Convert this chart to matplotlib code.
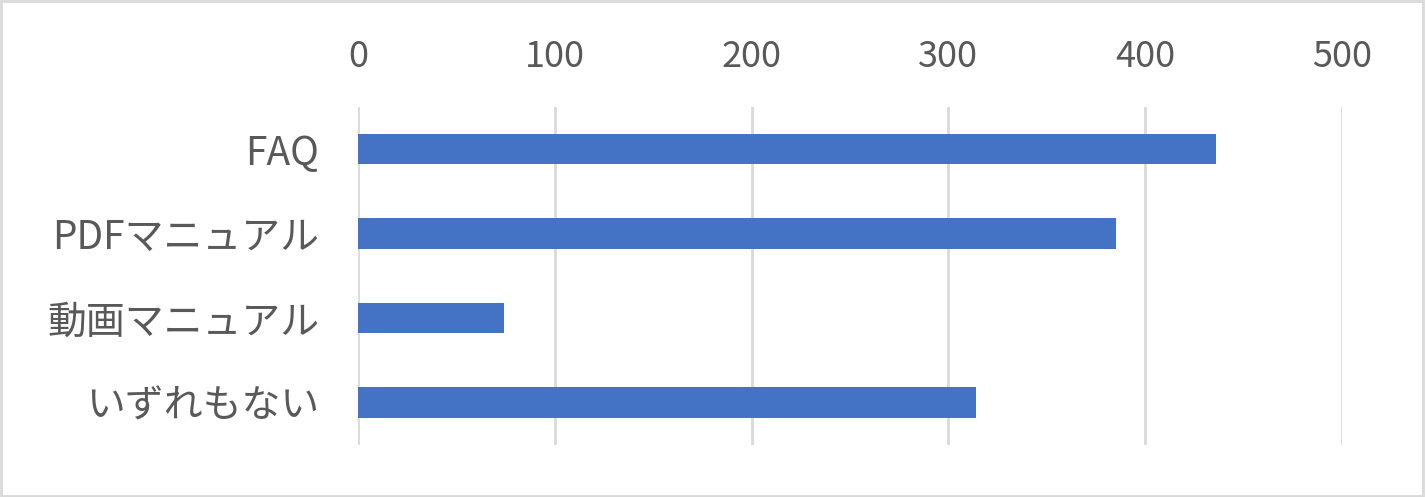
import matplotlib

matplotlib.use("Agg")
import matplotlib.pyplot as plt
from matplotlib.patches import Rectangle

plt.rcParams["font.family"] = ["Noto Sans CJK JP", "DejaVu Sans"]

categories = ["FAQ", "PDFマニュアル", "動画マニュアル", "いずれもない"]
values = [436, 385, 74, 314]
x_ticks = [0, 100, 200, 300, 400, 500]

bar_color = "#4472C4"
grid_color = "#D9D9D9"
text_color = "#595959"

fig = plt.figure(figsize=(14.26, 4.97), dpi=100)
ax = fig.add_axes([0.251, 0.105, 0.690, 0.680])

ypos = list(range(len(categories)))
ax.barh(ypos, values, height=0.36, color=bar_color, zorder=3)

ax.set_xlim(0, 500)
ax.set_ylim(3.5, -0.5)
ax.set_xticks(x_ticks)
ax.set_yticks(ypos)
ax.set_yticklabels(categories)
ax.xaxis.tick_top()
ax.tick_params(axis="x", length=0, pad=23, labelsize=26, labelcolor=text_color)
ax.tick_params(axis="y", length=0, pad=28, labelsize=28, labelcolor=text_color)
ax.grid(axis="x", color=grid_color, linewidth=2, zorder=0)
for s in ax.spines.values():
    s.set_visible(False)

# outer chart border
fig.patches.append(Rectangle((0.001, 0.002), 0.997, 0.995, transform=fig.transFigure,
                             fill=False, edgecolor=grid_color, linewidth=2))

fig.savefig("out.png", dpi=100)
